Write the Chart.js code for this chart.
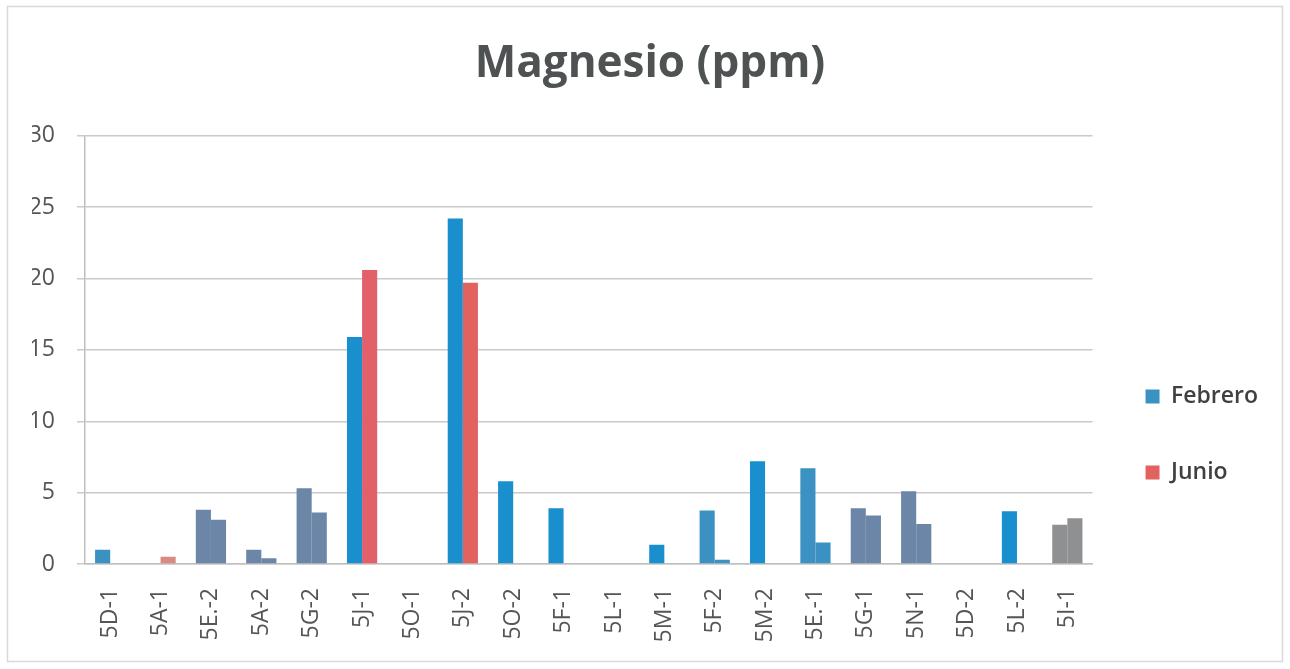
<!DOCTYPE html>
<html lang="es">
<head>
<meta charset="utf-8">
<title>Magnesio (ppm)</title>
<script src="https://cdn.jsdelivr.net/npm/chart.js@4.4.1/dist/chart.umd.min.js"></script>
<style>
  html, body { margin: 0; padding: 0; background: #ffffff; }
  canvas { display: block; }
</style>
</head>
<body>
<canvas id="chart" width="1290" height="669"></canvas>
<script>
// Sampling points
const categories = ['5D-1', '5A-1', '5E.-2', '5A-2', '5G-2', '5J-1', '5O-1', '5J-2', '5O-2', '5F-1',
                    '5L-1', '5M-1', '5F-2', '5M-2', '5E.-1', '5G-1', '5N-1', '5D-2', '5L-2', '5I-1'];

// Magnesium, ppm (null = not measured)
const febrero = [1.0, null, 3.8, 1.0, 5.3, 15.9, null, 24.2, 5.8, 3.9,
                 null, 1.35, 3.75, 7.2, 6.7, 3.9, 5.1, null, 3.7, 2.75];
const junio   = [null, 0.5, 3.1, 0.4, 3.6, 20.6, null, 19.7, null, null,
                 null, null, 0.3, null, 1.5, 3.4, 2.8, null, null, 3.2];

// Y axis ticks
const yTicks = [0, 5, 10, 15, 20, 25, 30];

// Palette
const BLUE = '#1a8fcd';
const RED = '#e2625f';
const SLATE = '#6b86a6';
const MUTED = '#3b91c1';
const PINK = '#dc8884';
const GRAY = '#8e9091';

// Fill colour of each bar, one entry per sampling point
const febreroFill = [MUTED, BLUE, SLATE, SLATE, SLATE, BLUE, BLUE, BLUE, BLUE, BLUE,
                     BLUE, BLUE, MUTED, BLUE, MUTED, SLATE, SLATE, BLUE, BLUE, GRAY];
const junioFill   = [RED, PINK, SLATE, SLATE, SLATE, '#e3606a', RED, RED, RED, RED,
                     RED, RED, MUTED, RED, MUTED, SLATE, SLATE, RED, RED, GRAY];

const fillFor = (list, fallback) => (ctx) => ctx.type === 'data' ? list[ctx.dataIndex] : fallback;

// Light frame around the whole figure
const framePlugin = {
  id: 'frame',
  beforeDraw(chart) {
    const c = chart.ctx;
    c.save();
    c.fillStyle = '#ffffff';
    c.fillRect(0, 0, chart.width, chart.height);
    c.strokeStyle = '#d9d9d9';
    c.lineWidth = 1.5;
    c.strokeRect(7.5, 6.5, chart.width - 15, chart.height - 14);
    c.restore();
  }
};

const FONT = "'Open Sans', 'Liberation Sans', sans-serif";

new Chart(document.getElementById('chart'), {
  type: 'bar',
  data: {
    labels: categories,
    datasets: [
      {
        label: 'Febrero',
        data: febrero,
        backgroundColor: fillFor(febreroFill, BLUE),
        borderWidth: 0,
        categoryPercentage: 0.6,
        barPercentage: 1.0
      },
      {
        label: 'Junio',
        data: junio,
        backgroundColor: fillFor(junioFill, '#e06a68'),
        borderWidth: 0,
        categoryPercentage: 0.6,
        barPercentage: 1.0
      }
    ]
  },
  options: {
    responsive: false,
    animation: false,
    devicePixelRatio: 1,
    layout: { padding: { left: 32, right: 22, top: 0, bottom: 0 } },
    plugins: {
      title: {
        display: true,
        text: 'Magnesio (ppm)',
        color: '#4e5252',
        font: { family: FONT, size: 44, weight: '700', lineHeight: 1.2 },
        padding: { top: 38, bottom: 45 }
      },
      legend: {
        display: true,
        position: 'right',
        align: 'start',
        title: {
          display: true,
          text: '',
          font: { size: 10, lineHeight: 1 },
          padding: { top: 322, bottom: 0 }
        },
        labels: {
          boxWidth: 14,
          boxHeight: 14,
          padding: 53,
          color: '#404040',
          font: { family: FONT, size: 23, weight: '600' }
        }
      },
      tooltip: { enabled: false }
    },
    scales: {
      x: {
        grid: { display: false, drawTicks: false },
        border: { display: true, color: '#bfbfbf', width: 1.5 },
        ticks: {
          color: '#555555',
          font: { family: FONT, size: 23 },
          minRotation: 90,
          maxRotation: 90,
          autoSkip: false,
          padding: 24
        },
        afterFit(scale) { scale.height = 105; }
      },
      y: {
        min: 0,
        max: 30,
        afterBuildTicks(scale) { scale.ticks = yTicks.map(v => ({ value: v })); },
        grid: { color: '#cacaca', lineWidth: 1.5, tickLength: 8 },
        border: { display: true, color: '#bfbfbf', width: 1.5 },
        ticks: {
          color: '#555555',
          font: { family: FONT, size: 23 },
          padding: 22
        },
        afterFit(scale) { scale.width = 53; }
      }
    }
  },
  plugins: [framePlugin]
});
</script>
</body>
</html>
